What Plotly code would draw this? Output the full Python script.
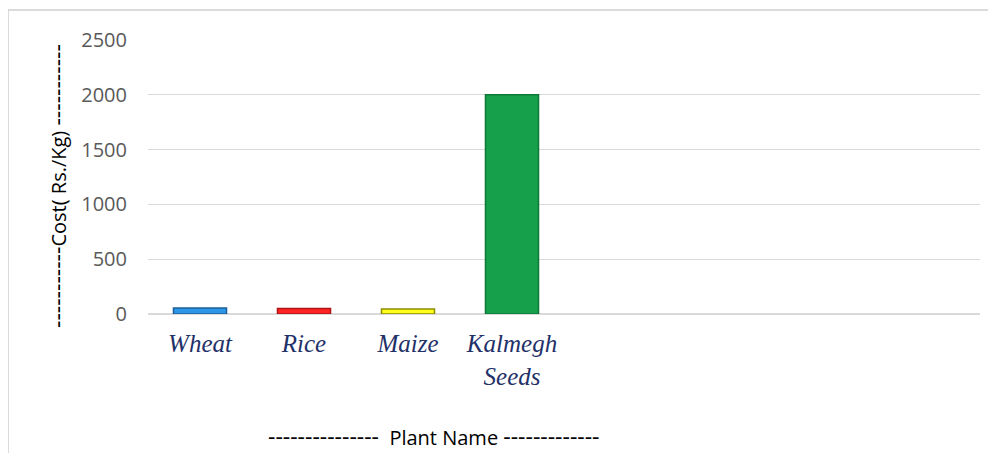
import plotly.graph_objects as go

categories = ["Wheat", "Rice", "Maize", "Kalmegh<br>Seeds"]
cost = [55, 50, 45, 2000]
empty_slots = 4
y_ticks = [0, 500, 1000, 1500, 2000, 2500]

fill_colors = ["#2E96E6", "#FF2424", "#FFFF1A", "#17A04C"]
edge_colors = ["#1C5F9C", "#B01414", "#8C8C00", "#0C7A36"]

# page has an 8px body margin; figure coordinates = page coordinates - 8
W, H = 988, 445
L, R, T, B = 140, 16, 32, 139
PW, PH = W - L - R, H - T - B


def px(xf):
    return (xf - L) / PW


def py(yf):
    return (H - B - yf) / PH


def dashes(n):
    return '<span style="font-size:23px">' + "-" * n + "</span>"


fig = go.Figure()
fig.add_trace(go.Bar(
    x=list(range(len(categories))),
    y=cost,
    marker=dict(color=fill_colors, line=dict(color=edge_colors, width=1.5)),
    width=0.51,
    hoverinfo="skip",
))

n_slots = len(categories) + empty_slots
fig.update_layout(
    width=W, height=H,
    margin=dict(l=L, r=R, t=T, b=B),
    paper_bgcolor="white", plot_bgcolor="white",
    showlegend=False,
    xaxis=dict(
        range=[-0.5, n_slots - 0.5],
        tickvals=list(range(len(categories))),
        ticktext=categories,
        tickfont=dict(family="Liberation Serif", size=25, color="#1F3168", style="italic"),
        ticks="outside", ticklen=7, tickcolor="rgba(0,0,0,0)",
        showgrid=False, zeroline=False, showline=False,
        tickangle=0,
    ),
    yaxis=dict(
        range=[0, 2500],
        tickvals=y_ticks,
        tickfont=dict(family="Open Sans", size=20, color="#595959"),
        showgrid=True, gridcolor="#D9D9D9", gridwidth=1,
        zeroline=True, zerolinecolor="#D9D9D9", zerolinewidth=2,
        showline=False,
        ticklabelstandoff=20,
    ),
    shapes=[dict(type="rect", xref="paper", yref="paper",
                 x0=px(0), x1=px(W + 20),
                 y0=py(H + 20), y1=py(2),
                 line=dict(color="#D0D0D0", width=1.5), layer="below")],
    annotations=[
        dict(text=dashes(11) + "Cost( Rs./Kg) " + dashes(11), textangle=-90,
             xref="paper", yref="paper",
             x=px(49), y=py(178),
             xanchor="center", yanchor="middle", showarrow=False,
             font=dict(family="Open Sans", size=20, color="#000000")),
        dict(text=dashes(15) + "&nbsp; Plant Name " + dashes(13),
             xref="paper", yref="paper",
             x=px(426), y=py(428),
             xanchor="center", yanchor="middle", showarrow=False,
             font=dict(family="Open Sans", size=20, color="#000000")),
    ],
)

fig.write_html("out.html")
